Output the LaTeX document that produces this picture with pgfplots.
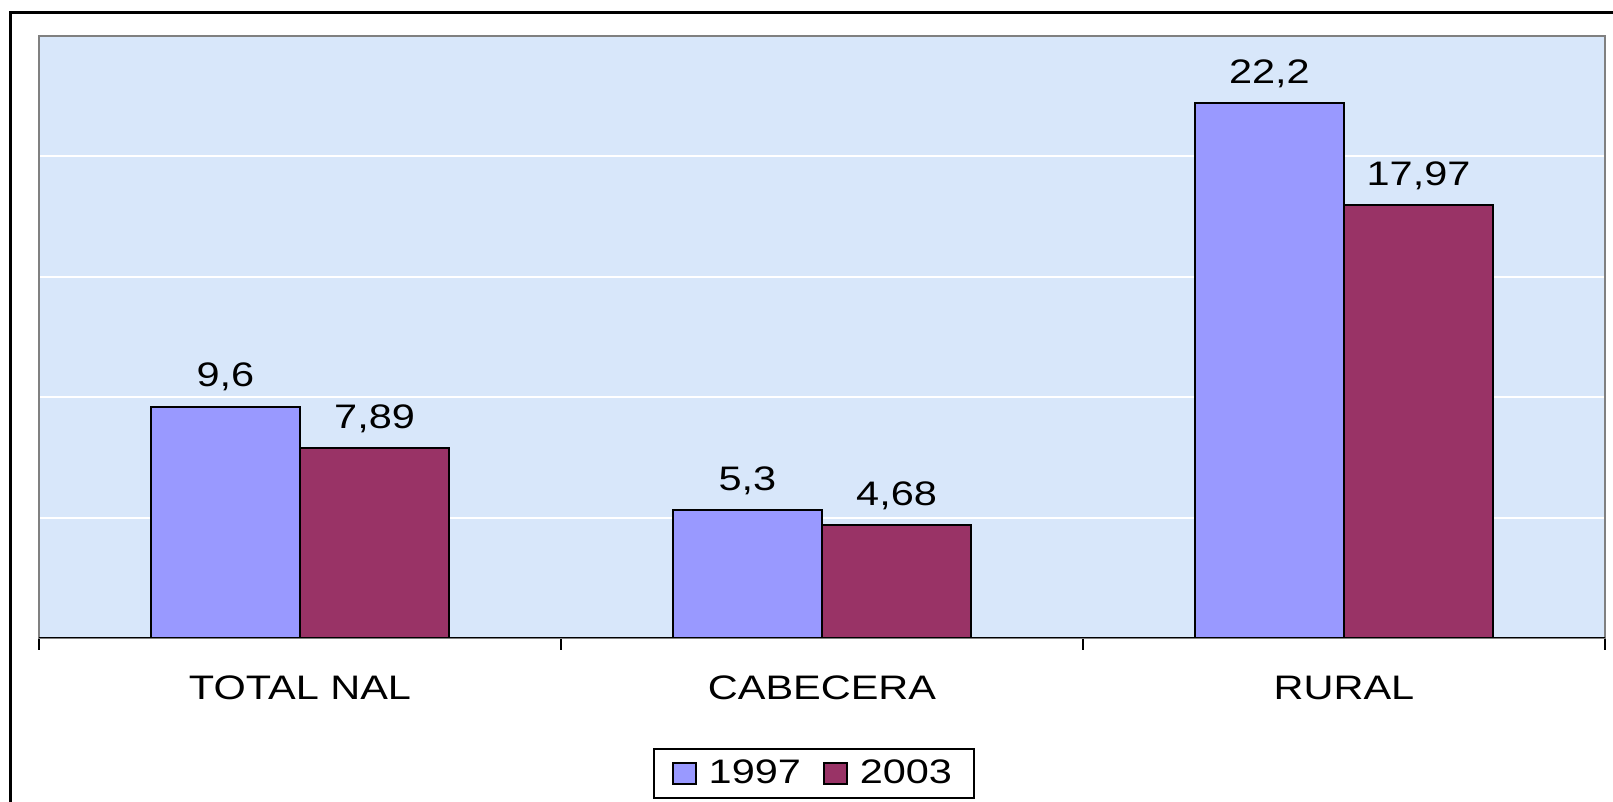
\documentclass[border=0pt]{standalone}
\usepackage{fontspec}
\setmainfont{Liberation Sans}[FakeStretch=1.22]
\usepackage{pgfplots}
\pgfplotsset{compat=1.18}
\definecolor{c1997}{HTML}{9999FF}
\definecolor{c2003}{HTML}{993366}
\definecolor{bgblue}{RGB}{216,231,250}
\definecolor{framegray}{HTML}{808080}

\begin{document}
\begin{tikzpicture}
\useasboundingbox (0,0) rectangle (806.5pt,401pt);
% outer chart border (left and top visible)
\draw[line width=1.5pt] (5.25pt,0pt) -- (5.25pt,394.5pt) -- (806.5pt,394.5pt);
\begin{axis}[
    at={(19.5pt,82pt)}, anchor=south west,
    scale only axis,
    width=783pt, height=301pt,
    xmin=0, xmax=3, ymin=0, ymax=25,
    axis background/.style={fill=bgblue},
    axis line style={draw=framegray, line width=0.9pt},
    ybar=0pt, bar width=0.2857,
    xtick={0.5,1.5,2.5},
    xticklabels={TOTAL NAL, CABECERA, RURAL},
    minor xtick={0,1,2,3},
    xtick pos=left, ytick pos=left,
    tick align=outside,
    major tick length=0pt, minor tick length=6pt,
    minor tick style={black, line width=0.8pt},
    ytick={5,10,15,20}, yticklabels={},
    ymajorgrids, grid style={white, line width=1pt},
    xticklabel style={anchor=base, yshift=-31pt, font=\fontsize{17}{20}\selectfont},
    /pgf/number format/assume math mode=true,
    nodes near coords={\pgfmathprintnumber[use comma, fixed, precision=2]{\pgfplotspointmeta}},
    every node near coord/.append style={anchor=base, yshift=10pt, black, font=\fontsize{17}{20}\selectfont},
    legend columns=2,
    legend style={at={(0.5,0)}, anchor=north, yshift=-55pt, xshift=-4pt,
        draw=black, line width=1pt, font=\fontsize{17}{20}\selectfont,
        inner xsep=9pt, inner ysep=3.5pt,
        /tikz/every even column/.append style={column sep=9pt}},
    legend image code/.code={\draw[#1, draw=black, line width=0.8pt] (0pt,-5.25pt) rectangle (11.5pt,5.25pt); \path (15.5pt,0pt);},
]
\addplot[fill=c1997, draw=black, line width=1pt] coordinates {(0.5,9.6) (1.5,5.3) (2.5,22.2)};
\addlegendentry{1997}
\addplot[fill=c2003, draw=black, line width=1pt] coordinates {(0.5,7.89) (1.5,4.68) (2.5,17.97)};
\addlegendentry{2003}
% black category axis line
\draw[black, line width=0.9pt] (rel axis cs:0,0) -- (rel axis cs:1,0);
\end{axis}
\end{tikzpicture}
\end{document}
